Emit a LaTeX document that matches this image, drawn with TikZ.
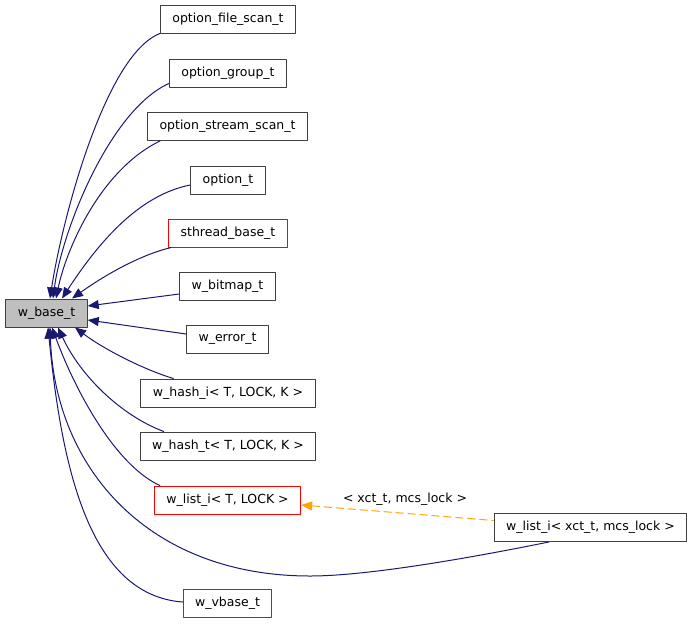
\documentclass[tikz,border=0pt]{standalone}
\usepackage{fontspec}
\setmainfont{DejaVu Sans}
\usetikzlibrary{arrows.meta}
\definecolor{edgeblue}{RGB}{25,25,112}
\definecolor{boxgray}{RGB}{64,64,64}
\definecolor{basefill}{RGB}{191,191,191}
\definecolor{tmplorange}{RGB}{255,165,0}

\begin{document}
\begin{tikzpicture}[line cap=round,line join=round,x=1pt,y=-1pt,
  font=\fontsize{12.5}{15}\selectfont,
  cls/.style={draw=boxgray,line width=1pt,inner xsep=12pt,inner ysep=0pt,minimum height=28pt},
  clsred/.style={cls,draw=red},
  inh/.style={draw=edgeblue,line width=1pt,{Triangle[length=11pt,width=9pt]}-},
  tmpl/.style={draw=tmplorange,line width=1pt,line cap=butt,dash pattern=on 8pt off 4pt,{Triangle[length=11pt,width=9pt]}-}]
\useasboundingbox (0,0) rectangle (693,624);
\node[cls,fill=basefill] (base) at (46.5,313) {w\_base\_t};
\node[cls] (fscan) at (228,19) {option\_file\_scan\_t};
\node[cls] (group) at (228,73) {option\_group\_t};
\node[cls] (sscan) at (227.5,126.5) {option\_stream\_scan\_t};
\node[cls] (opt) at (228,180) {option\_t};
\node[clsred] (sthread) at (228,233) {sthread\_base\_t};
\node[cls] (bitmap) at (227.5,286) {w\_bitmap\_t};
\node[cls] (error) at (227.5,339) {w\_error\_t};
\node[cls] (hashi) at (228,393) {w\_hash\_i< T, LOCK, K >};
\node[cls] (hasht) at (228,446) {w\_hash\_t< T, LOCK, K >};
\node[clsred] (listi) at (227.5,500) {w\_list\_i< T, LOCK >};
\node[cls] (xct) at (590.5,527.5) {w\_list\_i< xct\_t, mcs\_lock >};
\node[clsred] (vbase) at (227.5,603.5) {w\_vbase\_t};
% inheritance edges
\draw[inh] ([xshift=3.5pt]base.north) .. controls (62,220) and (105,55) .. (fscan.south west);
\draw[inh] ([xshift=6.5pt]base.north) .. controls (62,230) and (110,110) .. ([yshift=4pt]group.south west);
\draw[inh] ([xshift=9.5pt]base.north) .. controls (66,250) and (100,170) .. ([xshift=13pt]sscan.south west);
\draw[inh] ([xshift=15.5pt]base.north) .. controls (100,240) and (140,195) .. ([yshift=-5pt]opt.west);
\draw[inh] ([xshift=25.5pt]base.north) .. controls (105,275) and (140,255) .. ([xshift=3pt]sthread.south west);
\draw[inh] ([yshift=7pt]base.east) -- ([yshift=-8pt]bitmap.west);
\draw[inh] ([yshift=-7pt]base.east) -- ([yshift=5pt]error.west);
\draw[inh] ([xshift=28.5pt]base.south) .. controls (105,350) and (145,370) .. ([xshift=33pt]hashi.north west);
\draw[inh] ([xshift=11.5pt]base.south) .. controls (80,375) and (120,415) .. ([xshift=24pt]hasht.north west);
\draw[inh] ([xshift=5.5pt]base.south) .. controls (75,390) and (115,465) .. ([xshift=6pt]listi.north west);
\draw[inh] ([xshift=3.5pt]base.south) .. controls (55,470) and (150,576) .. (310,576)
  .. controls (370,576) and (480,556) .. ([xshift=55pt]xct.south west);
\draw[inh] ([xshift=1.5pt]base.south) .. controls (62,470) and (90,595) .. ([yshift=1.5pt]vbase.west);
% template instance
\draw[tmpl] ([yshift=-5pt]listi.east) -- ([yshift=7pt]xct.west);
\node (tmpllabel) at (405,499) {< xct\_t, mcs\_lock >};
\end{tikzpicture}
\end{document}
